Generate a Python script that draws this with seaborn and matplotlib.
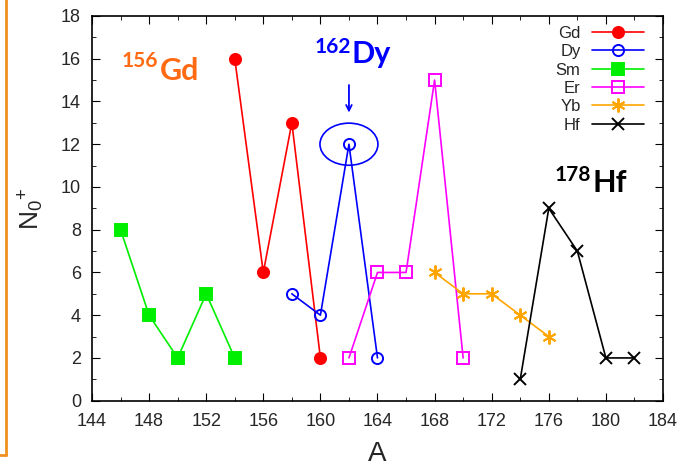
import numpy as np
import pandas as pd
import matplotlib
matplotlib.use('Agg')
import matplotlib.pyplot as plt
from matplotlib.lines import Line2D
from matplotlib.patches import Ellipse
from matplotlib.ticker import MultipleLocator
import seaborn as sns

# data
gd_a = [154, 156, 158, 160]
gd_n = [16, 6, 13, 2]
dy_a = [158, 160, 162, 164]
dy_n = [5, 4, 12, 2]
sm_a = [146, 148, 150, 152, 154]
sm_n = [8, 4, 2, 5, 2]
er_a = [162, 164, 166, 168, 170]
er_n = [2, 6, 6, 15, 2]
yb_a = [168, 170, 172, 174, 176]
yb_n = [6, 5, 5, 4, 3]
hf_a = [174, 176, 178, 180, 182]
hf_n = [1, 9, 7, 2, 2]

sns.set_style('ticks')
plt.rcParams['font.family'] = ['Liberation Sans', 'DejaVu Sans']
plt.rcParams['mathtext.fontset'] = 'custom'
plt.rcParams['mathtext.rm'] = 'Liberation Sans'

fig = plt.figure(figsize=(6.83, 4.67), dpi=100)
ax = fig.add_axes([0.1347, 0.142, 0.836, 0.8238])

series = [
    ('Gd', gd_a, gd_n, '#ff0000', 'o', 'full', 8),
    ('Dy', dy_a, dy_n, '#0000ff', 'o', 'none', 8),
    ('Sm', sm_a, sm_n, '#00ee00', 's', 'full', 8),
    ('Er', er_a, er_n, '#ff00ff', 's', 'none', 8),
    ('Yb', yb_a, yb_n, '#ffa500', (6, 2, 0), 'full', 10),
    ('Hf', hf_a, hf_n, '#000000', 'x', 'full', 9),
]

for name, a, n, col, mk, fill, ms in series:
    df = pd.DataFrame({'A': a, 'N': n})
    sns.lineplot(data=df, x='A', y='N', ax=ax, color=col, marker=mk,
                 markersize=ms, linewidth=1.2, label=name,
                 markerfacecolor=(col if fill == 'full' else 'none'),
                 markeredgecolor=col, markeredgewidth=1.4)

ax.set_xlim(144, 184)
ax.set_ylim(0, 18)
ax.xaxis.set_major_locator(MultipleLocator(4))
ax.xaxis.set_minor_locator(MultipleLocator(2))
ax.yaxis.set_major_locator(MultipleLocator(2))
ax.yaxis.set_minor_locator(MultipleLocator(1))
ax.tick_params(which='both', direction='in', top=True, right=True,
               labelsize=13, color='black')
ax.tick_params(which='major', length=6)
ax.tick_params(which='minor', length=3)
ax.tick_params(axis='y', pad=8)
ax.tick_params(axis='x', pad=9)
for sp in ax.spines.values():
    sp.set_linewidth(1.2)
    sp.set_color('black')

ax.set_xlabel('A', fontsize=20)
ax.set_ylabel(r'$\mathregular{N_{0}{}^{+}}$', fontsize=19)
ax.xaxis.set_label_coords(0.5, -0.105)
ax.yaxis.set_label_coords(-0.08, 0.5)

leg = ax.legend(loc='upper right', bbox_to_anchor=(1 - 9 / 571, 1), frameon=False,
                markerfirst=False, fontsize=12, handlelength=3.1, labelspacing=0.2,
                borderaxespad=0.3, borderpad=0.3, handletextpad=0.7)
for t in leg.get_texts():
    t.set_ha('right')

# annotations: mass number as a separate smaller text, element symbol after it
labels = [
    ('156', 'Gd', '#ff6a13', (146.1, 15.6), (148.76, 15.0)),
    ('162', 'Dy', '#0000ff', (159.62, 16.27), (162.2, 15.8)),
    ('178', 'Hf', '#000000', (176.43, 10.28), (179.03, 9.77)),
]
for mass, sym, col, p_mass, p_sym in labels:
    ax.text(*p_mass, mass, color=col, fontsize=15, fontweight='bold',
            family='Lato', va='baseline', ha='left')
    ax.text(*p_sym, sym, color=col, fontsize=22, fontweight='bold',
            family='Lato', va='baseline', ha='left')

ax.add_patch(Ellipse((162, 12), 4.06, 1.97, fill=False, edgecolor='#0000ff', lw=1.2))
ax.annotate('', xy=(162, 13.35), xytext=(162, 14.9),
            arrowprops=dict(arrowstyle='->', color='#0000ff', lw=1.3))

# orange slide border on the left
fig.add_artist(Line2D([6 / 683, 6 / 683], [1, 1 - 455 / 467], color='#f0901e', lw=2,
                      transform=fig.transFigure))
fig.add_artist(Line2D([0, 6 / 683], [1 - 455 / 467, 1 - 455 / 467], color='#f0901e', lw=2,
                      transform=fig.transFigure))

fig.savefig('out.png', dpi=100)
